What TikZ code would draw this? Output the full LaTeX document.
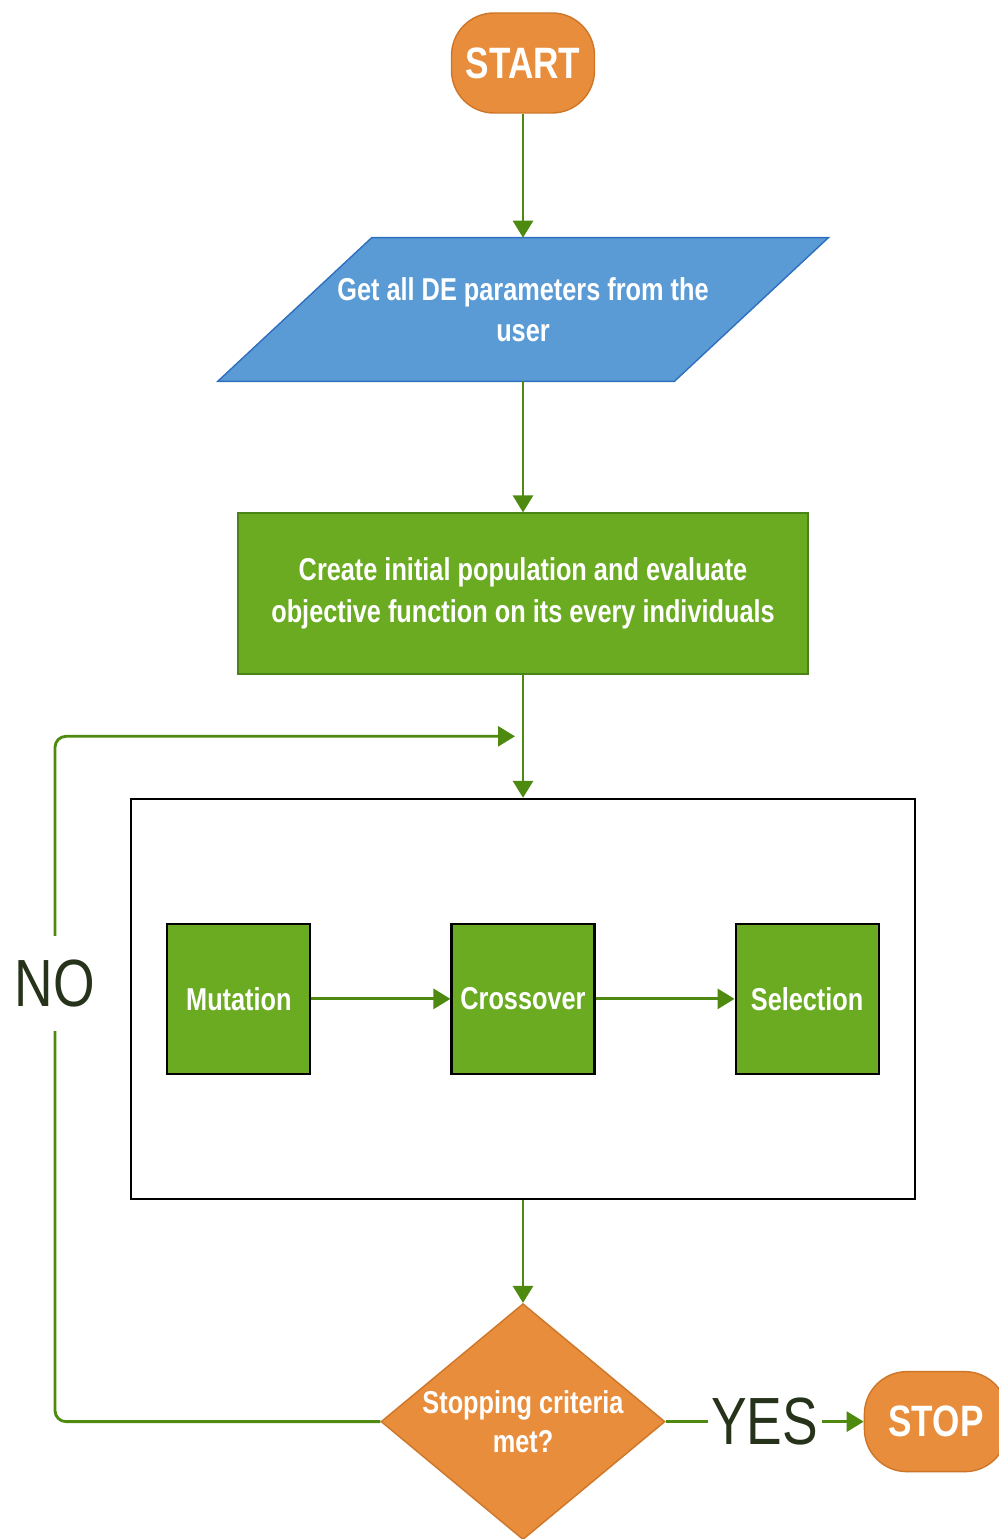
\documentclass[tikz,border=0pt]{standalone}
\usepackage{fontspec}
\newfontfamily\chartfont{Liberation Sans}[FakeStretch=0.8]
\usetikzlibrary{arrows.meta, positioning, shapes.geometric, calc, backgrounds}
\definecolor{deorange}{HTML}{E88D3C}
\definecolor{deorangeedge}{HTML}{CF7528}
\definecolor{deblue}{HTML}{5B9BD5}
\definecolor{deblueedge}{HTML}{2F6FC0}
\definecolor{degreen}{HTML}{6AAB22}
\definecolor{degreenedge}{HTML}{4A8418}
\definecolor{dearrow}{HTML}{4D8A0F}
\definecolor{delabel}{HTML}{26331A}

\begin{document}
\begin{tikzpicture}[
    >={Triangle[length=3.4mm, width=4mm]},
    terminal/.style={
        rectangle, rounded corners=0.85cm, draw=deorangeedge, line width=0.8pt,
        fill=deorange, text=white, minimum width=2.86cm, minimum height=2cm,
        font=\chartfont\bfseries\fontsize{25}{30}\selectfont
    },
    inputbox/.style={
        rectangle, text=white, align=center, inner sep=0pt,
        minimum width=9.12cm, minimum height=2.86cm,
        font=\chartfont\bfseries\fontsize{18}{23}\selectfont
    },
    inputshape/.style={draw=deblueedge, line width=0.8pt, fill=deblue},
    process/.style={
        rectangle, draw=degreenedge, line width=0.8pt, fill=degreen,
        text=white, align=center, minimum width=11.4cm, minimum height=3.22cm,
        font=\chartfont\bfseries\fontsize{18}{24}\selectfont
    },
    operator/.style={
        rectangle, draw=black, line width=1.2pt, fill=degreen, text=white,
        inner sep=0pt, minimum width=2.86cm, minimum height=3cm,
        font=\chartfont\bfseries\fontsize{18}{22}\selectfont
    },
    container/.style={
        rectangle, draw=black, line width=1.2pt,
        minimum width=15.68cm, minimum height=8cm
    },
    decision/.style={
        diamond, draw=deorangeedge, line width=0.8pt, fill=deorange,
        text=white, align=center, inner sep=0pt, aspect=1.2,
        minimum width=5.68cm, minimum height=4.72cm,
        font=\chartfont\bfseries\fontsize{18}{22}\selectfont
    },
    flow/.style={->, draw=dearrow, line width=1.6pt},
    bigword/.style={
        font=\chartfont\fontsize{38}{42}\selectfont, text=delabel,
        fill=white, inner sep=2pt
    },
]

\useasboundingbox (0,0) rectangle (19.96,-30.78);

% ── Nodes ──
\node[terminal] (start) at (10.46,-1.26) {START};
\node[inputbox, below=2.48cm of start] (params) {Get all DE parameters from the\\user};
\node[process, below=2.62cm of params] (init) {Create initial population and evaluate\\objective function on its every individuals};
\node[container, below=2.46cm of init] (loopbox) {};

\node[operator] (crossover) at (loopbox.center) {Crossover};
\node[operator, left=2.78cm of crossover] (mutation) {Mutation};
\node[operator, right=2.78cm of crossover] (selection) {Selection};

\node[decision, below=2.06cm of loopbox] (check) {Stopping criteria\\met?};
\node[terminal, right=3.96cm of check] (stop) {STOP};

% parallelogram behind the input text
\begin{scope}[on background layer]
\path[inputshape] ([xshift=-1.54cm]params.south west) -- ([xshift=-1.54cm]params.south east)
    -- ([xshift=1.54cm]params.north east) -- ([xshift=1.54cm]params.north west) -- cycle;
\end{scope}

% ── Loop-back points ──
\coordinate (loopend) at ([xshift=-0.16cm]$(init.south)!0.5!(loopbox.north)$);
\path (loopend) ++(-9.2,0) coordinate (loopcorner);

% ── Edges ──
\draw[flow] (start) -- (params);
\draw[flow] (params) -- (init);
\draw[flow] (init) -- (loopbox);
\draw[flow] (mutation) -- (crossover);
\draw[flow] (crossover) -- (selection);
\draw[flow] (loopbox) -- (check);
\draw[flow] (check) -- node[bigword] (yes) {YES} (stop);
\draw[flow, rounded corners=0.22cm] (check.west) -| (loopcorner) -- (loopend);
\node[bigword, minimum height=1.9cm, yshift=0.3cm] (no) at (loopcorner |- loopbox.center) {NO};

\end{tikzpicture}
\end{document}
